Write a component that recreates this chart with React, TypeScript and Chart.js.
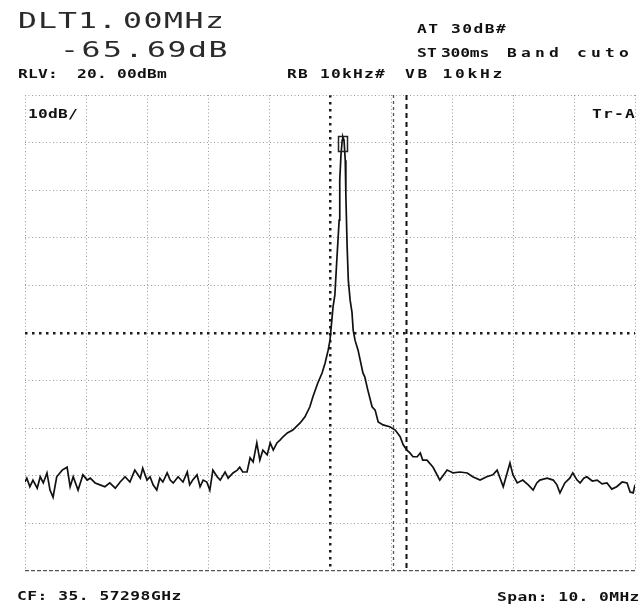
import React, { useEffect, useRef } from "react";
import { Chart, registerables } from "chart.js";

Chart.register(...registerables);

// Frequency offset from centre (MHz) and trace level (dBm)
const freqMHz = [
  -5.0, -4.97, -4.92, -4.87, -4.8, -4.75, -4.7, -4.64, -4.59, -4.54,
  -4.48, -4.39, -4.31, -4.26, -4.21, -4.13, -4.05, -3.98, -3.93, -3.85,
  -3.77, -3.69, -3.61, -3.52, -3.44, -3.36, -3.28, -3.2, -3.11, -3.07,
  -3.0, -2.95, -2.9, -2.84, -2.79, -2.74, -2.67, -2.62, -2.57, -2.49,
  -2.41, -2.34, -2.3, -2.25, -2.18, -2.13, -2.08, -2.02, -1.97, -1.92,
  -1.85, -1.8, -1.72, -1.67, -1.59, -1.52, -1.48, -1.43, -1.36, -1.31,
  -1.26, -1.2, -1.15, -1.1, -1.03, -0.98, -0.93, -0.87, -0.82, -0.77,
  -0.7, -0.61, -0.49, -0.41, -0.33, -0.28, -0.2, -0.13, -0.08, -0.03,
  0.0, 0.05, 0.08, 0.11, 0.15, 0.16, 0.18, 0.2, 0.21, 0.23,
  0.25, 0.26, 0.28, 0.3, 0.33, 0.36, 0.38, 0.41, 0.46, 0.54,
  0.57, 0.62, 0.69, 0.74, 0.79, 0.87, 0.98, 1.07, 1.15, 1.2,
  1.26, 1.31, 1.36, 1.43, 1.48, 1.52, 1.59, 1.69, 1.8, 1.92,
  2.02, 2.13, 2.25, 2.34, 2.46, 2.57, 2.67, 2.74, 2.84, 2.95,
  3.0, 3.07, 3.16, 3.25, 3.33, 3.39, 3.44, 3.56, 3.66, 3.72,
  3.77, 3.85, 3.93, 3.98, 4.05, 4.1, 4.16, 4.21, 4.3, 4.38,
  4.46, 4.54, 4.62, 4.7, 4.79, 4.87, 4.92, 4.97, 5.0,
];

const levelDbm = [
  -61.3, -60.5, -62.3, -60.9, -62.6, -60.2, -61.5, -59.4, -63.0, -64.5,
  -60.2, -58.8, -58.2, -62.3, -60.2, -63.0, -59.8, -60.9, -60.5, -61.5,
  -61.9, -62.3, -61.5, -62.6, -61.3, -60.2, -61.3, -58.8, -60.5, -58.4,
  -60.9, -60.2, -61.9, -63.0, -60.5, -61.3, -59.4, -60.9, -61.5, -60.2,
  -61.3, -59.2, -61.9, -60.9, -59.8, -62.3, -60.9, -61.3, -63.0, -58.8,
  -60.2, -60.9, -59.2, -60.5, -59.4, -58.8, -58.2, -59.2, -59.2, -56.2,
  -57.1, -53.1, -56.7, -54.6, -55.6, -53.1, -54.6, -53.1, -52.5, -51.8,
  -51.0, -50.4, -48.9, -47.6, -45.5, -43.4, -40.5, -38.4, -36.3, -33.6,
  -31.5, -24.5, -22.0, -15.1, -6.3, 2.1, 7.4, 10.5, 11.2, 10.5,
  6.3, -1.0, -11.5, -18.9, -23.1, -25.6, -29.4, -31.5, -33.6, -38.4,
  -39.2, -42.0, -45.5, -46.2, -48.7, -49.3, -49.7, -50.4, -51.8, -53.5,
  -54.6, -55.2, -56.0, -56.0, -55.2, -56.7, -56.7, -58.2, -60.9, -58.8,
  -59.4, -59.2, -59.4, -60.2, -60.9, -60.2, -59.8, -58.8, -62.3, -57.3,
  -59.8, -61.5, -60.9, -61.9, -63.0, -61.5, -60.9, -60.5, -60.9, -61.9,
  -63.6, -61.5, -60.5, -59.4, -60.9, -61.5, -60.5, -60.2, -61.1, -60.9,
  -61.7, -61.5, -62.8, -62.3, -61.3, -61.5, -63.4, -63.6, -61.9,
];

// Axis ranges (MHz offset, dBm)
const xRange = [-5, 5];
const yRange = [-80, 20];
const xCentre = 0;
const yCentre = -30;

// Reference marker (box) and delta marker lines (MHz)
const refMarker = [0.21, 9.7];
const markerLinesMHz = [1.03, 1.25];

// Screen annotations
const bigTexts = [
  { t: "DLT1.", x: 18, y: 28, adv: 20 },
  { t: "00MHz", x: 123, y: 28, adv: 20.5 },
  { t: "-65.", x: 60, y: 57, adv: 21.5 },
  { t: "69dB", x: 147, y: 57, adv: 20.5 },
];
const smallTexts = [
  { t: "AT 30dB#", x: 417, y: 33, adv: 11.3 },
  { t: "ST", x: 417, y: 57, adv: 10 },
  { t: "300ms", x: 441, y: 57, adv: 9.6 },
  { t: "Band cuto", x: 507, y: 57, adv: 14 },
  { t: "RLV:", x: 18, y: 78, adv: 10 },
  { t: "20. 00dBm", x: 77, y: 78, adv: 10 },
  { t: "RB 10kHz#", x: 287, y: 78, adv: 11 },
  { t: "VB 10kHz", x: 405, y: 78, adv: 12.5 },
  { t: "10dB/", x: 28, y: 118, adv: 10 },
  { t: "Tr-A", x: 592, y: 118, adv: 11 },
  { t: "CF: 35. 57298GHz", x: 17, y: 600, adv: 10.3 },
  { t: "Span: 10. 0MHz", x: 497, y: 601, adv: 10.2 },
];

function drawSpaced(ctx: CanvasRenderingContext2D, text: string, x: number, y: number, adv: number, sx: number) {
  for (let i = 0; i < text.length; i++) {
    const ch = text[i];
    if (ch === " ") continue;
    ctx.save();
    ctx.translate(x + i * adv, y);
    ctx.scale(sx, 1);
    ctx.fillText(ch, 0, 0);
    ctx.restore();
  }
}

const overlayPlugin = {
  id: "overlay",
  beforeDraw(chart: any) {
    const { ctx, width, height } = chart;
    ctx.save();
    ctx.fillStyle = "#ffffff";
    ctx.fillRect(0, 0, width, height);
    ctx.restore();
  },
  beforeDatasetsDraw(chart: any) {
    const { ctx, chartArea: a, scales } = chart;
    ctx.save();
    markerLinesMHz.forEach((f, i) => {
      const px = Math.round(scales.x.getPixelForValue(f)) + 0.5;
      ctx.strokeStyle = i === 0 ? "#555" : "#111";
      ctx.lineWidth = i === 0 ? 1.3 : 2;
      ctx.setLineDash(i === 0 ? [3, 3] : [5, 4]);
      ctx.beginPath();
      ctx.moveTo(px, a.top);
      ctx.lineTo(px, a.bottom);
      ctx.stroke();
    });
    ctx.restore();
  },
  afterDatasetsDraw(chart: any) {
    const { ctx, scales } = chart;
    const px = scales.x.getPixelForValue(refMarker[0]);
    const py = scales.y.getPixelForValue(refMarker[1]);
    ctx.save();
    ctx.strokeStyle = "#222";
    ctx.lineWidth = 1.5;
    ctx.setLineDash([]);
    ctx.strokeRect(Math.round(px) - 4.5, Math.round(py) - 7.5, 9, 15);
    ctx.restore();
  },
  afterDraw(chart: any) {
    const { ctx } = chart;
    ctx.save();
    ctx.textBaseline = "alphabetic";
    ctx.textAlign = "left";
    ctx.fillStyle = "#2a2a2a";
    ctx.font = "21px 'DejaVu Sans Mono'";
    bigTexts.forEach((b) => drawSpaced(ctx, b.t, b.x, b.y, b.adv, 1.5));
    ctx.fillStyle = "#111";
    ctx.font = "bold 13px 'DejaVu Sans Mono'";
    smallTexts.forEach((s) => drawSpaced(ctx, s.t, s.x, s.y, s.adv, 1.25));
    ctx.restore();
  },
};

export default function App() {
  const canvasRef = useRef<HTMLCanvasElement | null>(null);

  useEffect(() => {
    if (!canvasRef.current) return;
    const points = freqMHz.map((f, i) => ({ x: f, y: levelDbm[i] }));
    const chart = new Chart(canvasRef.current, {
      type: "line",
      data: {
        datasets: [
          {
            data: points,
            borderColor: "#111",
            borderWidth: 1.7,
            pointRadius: 0,
            tension: 0,
            fill: false,
          },
        ],
      },
      options: {
        responsive: false,
        animation: false,
        devicePixelRatio: 1,
        layout: { padding: { left: 25, top: 95, right: 4, bottom: 33 } },
        plugins: { legend: { display: false }, tooltip: { enabled: false } },
        scales: {
          x: {
            type: "linear",
            min: xRange[0],
            max: xRange[1],
            ticks: { display: false, stepSize: 1 },
            grid: {
              drawTicks: false,
              color: (c: any) => (c.tick && c.tick.value === xCentre ? "#1a1a1a" : "#9a9a9a"),
              lineWidth: (c: any) => (c.tick && c.tick.value === xCentre ? 2.5 : 1),
            },
            border: {
              display: false,
              dash: (c: any) => (c.tick && c.tick.value === xCentre ? [2.5, 4.5] : [1, 2.5]),
            },
          },
          y: {
            type: "linear",
            min: yRange[0],
            max: yRange[1],
            ticks: { display: false, stepSize: 10 },
            grid: {
              drawTicks: false,
              color: (c: any) =>
                c.tick && c.tick.value === yCentre ? "#1a1a1a" : c.tick && c.tick.value === yRange[0] ? "#555" : "#9a9a9a",
              lineWidth: (c: any) =>
                c.tick && c.tick.value === yCentre ? 2.5 : c.tick && c.tick.value === yRange[0] ? 1.3 : 1,
            },
            border: {
              display: false,
              dash: (c: any) =>
                c.tick && c.tick.value === yCentre ? [2.5, 4.5] : c.tick && c.tick.value === yRange[0] ? [4, 2] : [1, 2.5],
            },
          },
        },
      },
      plugins: [overlayPlugin],
    } as any);
    return () => chart.destroy();
  }, []);

  return (
    <div style={{ position: "fixed", left: 0, top: 0, width: 639, height: 604, background: "#fff" }}>
      <canvas ref={canvasRef} width={639} height={604} style={{ display: "block" }} />
    </div>
  );
}
